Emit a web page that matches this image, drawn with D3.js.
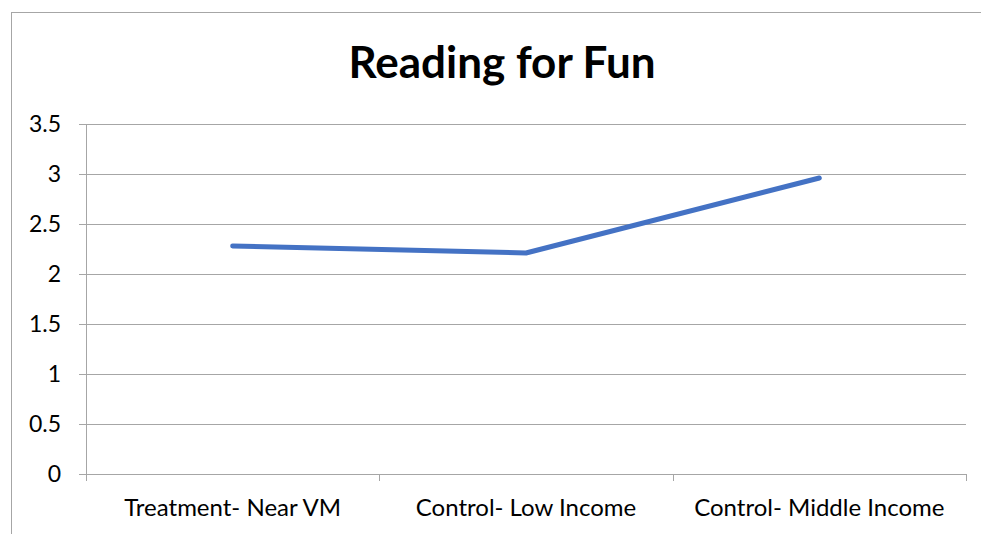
<!DOCTYPE html>
<html>
<head>
<meta charset="utf-8">
<script src="https://cdn.jsdelivr.net/npm/d3@7"></script>
<style>
body { margin: 0; background: #fff; }
svg { display: block; font-family: Lato, "Open Sans", sans-serif; }
</style>
</head>
<body>
<div id="chart"></div>
<script>
var categories = ["Treatment- Near VM", "Control- Low Income", "Control- Middle Income"];
var values = [2.28, 2.21, 2.96];
var yTicks = [0, 0.5, 1, 1.5, 2, 2.5, 3, 3.5];
var title = "Reading for Fun";

var width = 981, height = 534;
var margin = {top: 124, right: 15, bottom: 60, left: 86};
var fontFamily = "Lato, 'Open Sans', sans-serif";

var svg = d3.select("#chart")
            .append("svg")
                .attr("width", width)
                .attr("height", height);

// outer chart frame (runs off the right and bottom)
svg.append("rect")
    .attr("x", 11.5).attr("y", 12.5)
    .attr("width", 990).attr("height", 540)
    .attr("fill", "none")
    .attr("stroke", "#a6a6a6");

var xScale = d3.scaleBand()
                .domain(categories)
                .range([margin.left, width - margin.right]);

var yScale = d3.scaleLinear()
                .domain([0, 3.5])
                .range([height - margin.bottom, margin.top]);

// gridlines + y labels
var yAxis = svg.append("g")
    .attr("transform", "translate(" + margin.left + ",0)")
    .call(d3.axisLeft(yScale)
        .tickValues(yTicks)
        .tickFormat(function(d) { return d; })
        .tickSize(-(width - margin.right - margin.left))
        .tickPadding(25));
yAxis.attr("font-family", fontFamily);
yAxis.select(".domain").remove();
yAxis.selectAll(".tick line")
    .attr("stroke", "#a6a6a6")
    .attr("x1", -7);
yAxis.selectAll(".tick text")
    .attr("font-size", 23)
    .attr("fill", "#000");

// y axis line
svg.append("line")
    .attr("x1", margin.left + 0.5).attr("x2", margin.left + 0.5)
    .attr("y1", yScale(3.5)).attr("y2", yScale(0) + 7)
    .attr("stroke", "#a6a6a6");

// x axis
var xAxis = svg.append("g")
    .attr("transform", "translate(0," + yScale(0) + ")")
    .call(d3.axisBottom(xScale).tickSize(0).tickPadding(25));
xAxis.attr("font-family", fontFamily);
xAxis.select(".domain").attr("stroke", "#a6a6a6");
xAxis.selectAll(".tick text")
    .attr("font-size", 24)
    .attr("fill", "#000");

// category separators below the axis
var edges = categories.map(function(c) { return xScale(c); }).concat([xScale.range()[1]]);
svg.append("g")
    .selectAll("line")
    .data(edges)
    .enter()
    .append("line")
        .attr("x1", function(d) { return Math.round(d) + 0.5; })
        .attr("x2", function(d) { return Math.round(d) + 0.5; })
        .attr("y1", yScale(0))
        .attr("y2", yScale(0) + 7)
        .attr("stroke", "#a6a6a6");

// the series line
var line = d3.line()
    .x(function(d, i) { return xScale(categories[i]) + xScale.bandwidth() / 2; })
    .y(function(d) { return yScale(d); });

svg.append("path")
    .datum(values)
    .attr("d", line)
    .attr("fill", "none")
    .attr("stroke", "#4472c4")
    .attr("stroke-width", 5)
    .attr("stroke-linecap", "round")
    .attr("stroke-linejoin", "round");

// title
svg.append("text")
    .attr("x", 502)
    .attr("y", 78)
    .attr("text-anchor", "middle")
    .attr("font-size", 44)
    .attr("font-weight", "bold")
    .attr("fill", "#000")
    .text(title);
</script>
</body>
</html>
